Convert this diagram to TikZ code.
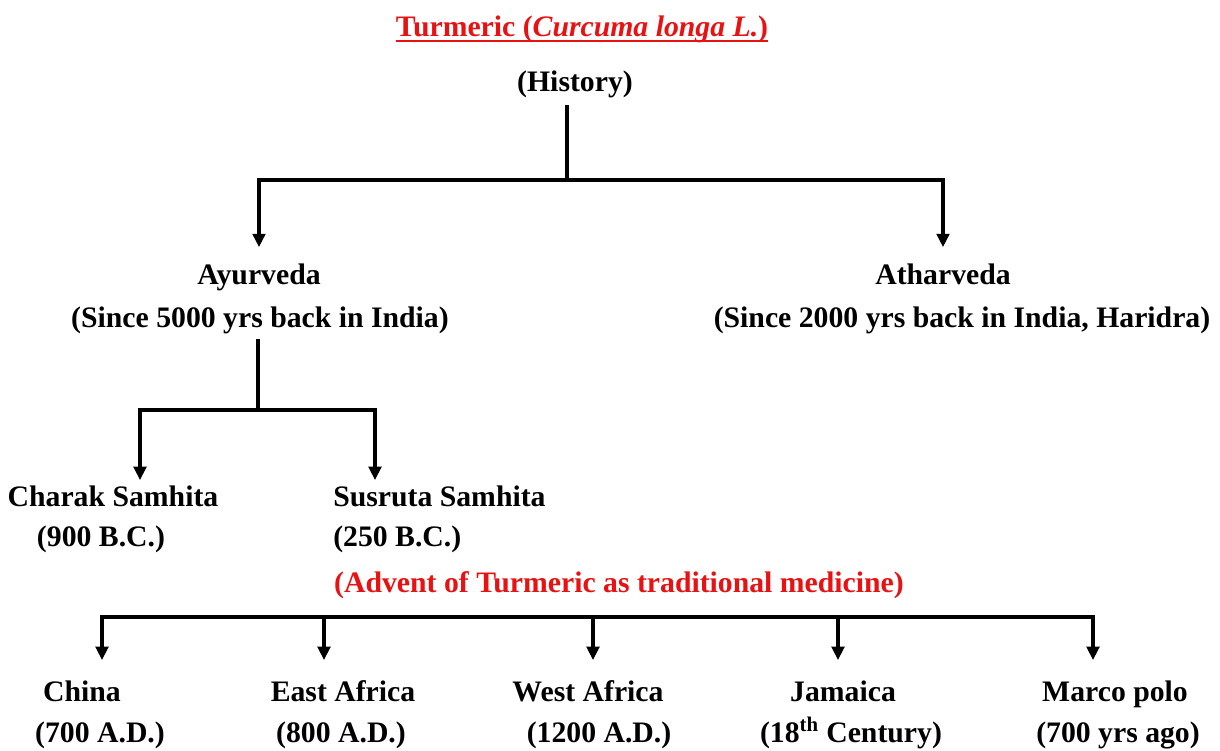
\documentclass[tikz,border=0pt]{standalone}
\usepackage{fontspec}
\setmainfont{Liberation Serif}
\usetikzlibrary{arrows.meta}
\definecolor{advred}{RGB}{232,18,18}
\tikzset{
	lbl/.style={font=\fontsize{22.3}{27}\selectfont\bfseries, inner sep=0pt, anchor=base},
	redlbl/.style={lbl, text=advred},
	ln/.style={line width=2.3pt, line cap=rect},
	arr/.style={line width=2.3pt, -{Triangle[width=9.5pt,length=10pt]}}
}
\begin{document}
\begin{tikzpicture}[x=0.75pt, y=-0.75pt]
		\useasboundingbox (0,0) rectangle (1220,750);
		\node at (582,36) [redlbl] (ttl) {Turmeric (\textit{Curcuma longa L.})};
		\draw[advred, line width=1.6pt] ([yshift=-3.5pt]ttl.base west) -- ([yshift=-3.5pt]ttl.base east);
		\node at (575,91) [lbl] (hist) {(History)};
		\node at (259,284) [lbl] (ayur) {Ayurveda};
		\node at (260,327) [lbl] (ayur2) {(Since 5000 yrs back in India)};
		\node at (943,284) [lbl] (athar) {Atharveda};
		\node at (962,327) [lbl] (athar2) {(Since 2000 yrs back in India, Haridra)};
		\node at (113,506) [lbl] (charak) {Charak Samhita};
		\node at (101,546) [lbl] (charak2) {(900 B.C.)};
		\node at (333,506) [lbl, anchor=base west] (susruta) {Susruta Samhita};
		\node at (333,546) [lbl, anchor=base west] (susruta2) {(250 B.C.)};
		\node at (619,592) [redlbl] (advent) {(Advent of Turmeric as traditional medicine)};
		\node at (82,701) [lbl] (china) {China};
		\node at (100,742) [lbl] (china2) {(700 A.D.)};
		\node at (343,701) [lbl] (eafr) {East Africa};
		\node at (341,742) [lbl] (eafr2) {(800 A.D.)};
		\node at (588,701) [lbl] (wafr) {West Africa};
		\node at (599,742) [lbl] (wafr2) {(1200 A.D.)};
		\node at (843,701) [lbl] (jam) {Jamaica};
		\node at (851,742) [lbl] (jam2) {(18\textsuperscript{th} Century)};
		\node at (1115,701) [lbl] (marco) {Marco polo};
		\node at (1118,742) [lbl] (marco2) {(700 yrs ago)};
		% history tree
		\coordinate (b1) at (567,180);
		\draw[ln, shorten <=7pt] (hist.south -| b1) -- (b1);
		\draw[arr, shorten >=12pt] (b1) -| (ayur.north);
		\draw[arr, shorten >=12pt] (b1) -| (athar.north);
		% ayurveda texts
		\coordinate (b2) at (258,410);
		\coordinate (c1) at (140,480);
		\coordinate (c2) at (375,480);
		\draw[ln, shorten <=5pt] (ayur2.south -| b2) -- (b2);
		\draw[arr] (b2) -| (c1);
		\draw[arr] (b2) -| (c2);
		% spread of turmeric
		\coordinate (bar) at (0,617);
		\foreach \x/\n in {102/1,324/2,593/3,838/4,1093/5}
			\coordinate (t\n) at (\x,660);
		\draw[ln] (t1 |- bar) -- (t5 |- bar);
		\foreach \n in {1,...,5}
			\draw[arr] (t\n |- bar) -- (t\n);
\end{tikzpicture}
\end{document}
